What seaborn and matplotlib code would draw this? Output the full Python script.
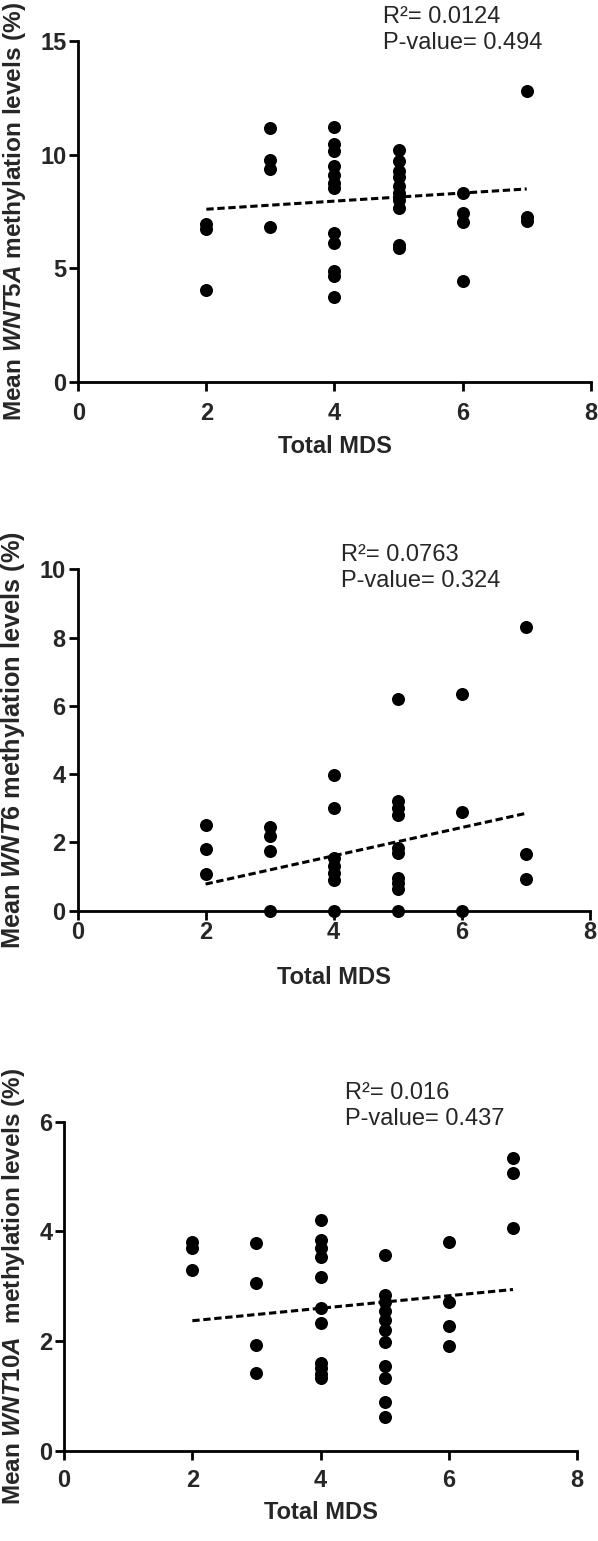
import pandas as pd

import matplotlib.pyplot as plt
import seaborn as sns

### Data
wnt5a_mds = [2, 2, 2,
             3, 3, 3, 3,
             4, 4, 4, 4, 4, 4, 4, 4, 4, 4, 4, 4,
             5, 5, 5, 5, 5, 5, 5, 5, 5, 5,
             6, 6, 6, 6,
             7, 7, 7]
wnt5a_meth = [6.95, 6.75, 4.05,
              11.15, 9.76, 9.35, 6.83,
              11.2, 10.45, 10.15, 9.5, 9.1, 8.75, 8.55, 6.55, 6.1, 4.9, 4.65, 3.75,
              10.2, 9.7, 9.3, 9.0, 8.6, 8.3, 8.0, 7.65, 6.05, 5.9,
              8.3, 7.45, 7.05, 4.45,
              12.8, 7.25, 7.1]

wnt6_mds = [2, 2, 2,
            3, 3, 3, 3,
            4, 4, 4, 4, 4, 4, 4,
            5, 5, 5, 5, 5, 5, 5, 5, 5, 5,
            6, 6, 6,
            7, 7, 7]
wnt6_meth = [2.5, 1.8, 1.08,
             2.45, 2.2, 1.75, 0.0,
             3.97, 3.0, 1.55, 1.3, 1.1, 0.9, 0.0,
             6.19, 3.2, 3.0, 2.8, 1.85, 1.7, 0.95, 0.8, 0.65, 0.0,
             6.35, 2.88, 0.0,
             8.3, 1.65, 0.92]

wnt10a_mds = [2, 2, 2,
              3, 3, 3, 3,
              4, 4, 4, 4, 4, 4, 4, 4, 4, 4, 4,
              5, 5, 5, 5, 5, 5, 5, 5, 5, 5, 5,
              6, 6, 6, 6,
              7, 7, 7]
wnt10a_meth = [3.81, 3.69, 3.29,
               3.79, 3.06, 1.93, 1.42,
               4.21, 3.84, 3.69, 3.54, 3.16, 2.6, 2.32, 1.6, 1.5, 1.4, 1.32,
               3.56, 2.84, 2.72, 2.55, 2.38, 2.2, 1.99, 1.55, 1.33, 0.89, 0.62,
               3.81, 2.72, 2.27, 1.91,
               5.33, 5.06, 4.07]

fit_mds = [2, 7]
wnt5a_fit = [7.60, 8.49]
wnt6_fit = [0.78, 2.85]
wnt10a_fit = [2.37, 2.94]

x_ticks = [0, 2, 4, 6, 8]
wnt5a_yticks = [0, 5, 10, 15]
wnt6_yticks = [0, 2, 4, 6, 8, 10]
wnt10a_yticks = [0, 2, 4, 6]

wnt5a_stats = ["R\u00b2= 0.0124", "P-value= 0.494"]
wnt6_stats = ["R\u00b2= 0.0763", "P-value= 0.324"]
wnt10a_stats = ["R\u00b2= 0.016", "P-value= 0.437"]

sns.set_style("ticks")
plt.rcParams['font.family'] = ['Liberation Sans', 'DejaVu Sans']
plt.rcParams['mathtext.fontset'] = 'custom'
plt.rcParams['mathtext.rm'] = 'Liberation Sans:bold'
plt.rcParams['mathtext.it'] = 'Liberation Sans:italic:bold'
plt.rcParams['mathtext.bf'] = 'Liberation Sans:bold'

W, H = 598, 1541


def plot_panel(fig, rect, mds, meth, fit, yticks, gene, stats, text_xy,
               xpad, xlabelpad, ylabelsize):
    """
    Scatter of methylation vs total MDS with the dashed regression line.
    rect is (left, top, right, bottom) of the axes in pixels.
    """
    left, top, right, bottom = rect
    ax = fig.add_axes([left / W, 1 - bottom / H, (right - left) / W, (bottom - top) / H])

    df = pd.DataFrame({'mds': mds, 'meth': meth})
    sns.scatterplot(data=df, x='mds', y='meth', ax=ax, color='black', s=88,
                    linewidth=0, clip_on=False, zorder=5)
    fit_df = pd.DataFrame({'mds': fit_mds, 'meth': fit})
    sns.lineplot(data=fit_df, x='mds', y='meth', ax=ax, color='black', lw=2.2,
                 linestyle=(0, (2.4, 1.2)), zorder=4)

    ax.set_xlim(0, 8)
    ax.set_ylim(0, yticks[-1])
    ax.set_xticks(x_ticks)
    ax.set_yticks(yticks)
    sns.despine(ax=ax)
    for s in ['left', 'bottom']:
        ax.spines[s].set_linewidth(2)
        ax.spines[s].set_color('black')
    ax.tick_params(axis='both', length=6.5, width=2, color='black', labelsize=17)
    ax.tick_params(axis='x', pad=xpad)
    ax.tick_params(axis='y', pad=2)
    for lab in ax.get_xticklabels() + ax.get_yticklabels():
        lab.set_fontweight('bold')

    ax.set_xlabel('Total MDS', fontsize=17, fontweight='bold', labelpad=xlabelpad)
    ax.set_ylabel(f'Mean {gene} methylation levels (%)', fontsize=ylabelsize,
                  fontweight='bold', labelpad=9)

    tx, ty = text_xy
    fig.text(tx / W, 1 - ty / H, stats[0], fontsize=17, va='center', ha='left')
    fig.text(tx / W, 1 - (ty + 26) / H, stats[1], fontsize=17, va='center', ha='left')
    return ax


fig = plt.figure(figsize=(W / 100, H / 100), dpi=100)

plot_panel(fig, (78.2, 40.7, 590.8, 382.3), wnt5a_mds, wnt5a_meth, wnt5a_fit,
           wnt5a_yticks, r'$\mathit{WNT5A}$', wnt5a_stats, (383, 17), 8, 7, 17.6)
plot_panel(fig, (77.5, 569.3, 589.7, 910.7), wnt6_mds, wnt6_meth, wnt6_fit,
           wnt6_yticks, r'$\mathit{WNT6}$', wnt6_stats, (341, 555), 1, 16, 18.3)
plot_panel(fig, (64.1, 1121.7, 577.1, 1450.7), wnt10a_mds, wnt10a_meth, wnt10a_fit,
           wnt10a_yticks, r'$\mathit{WNT10A}$ ', wnt10a_stats, (345, 1093), 7, 6, 17.5)

plt.savefig("out.png", dpi=100)
